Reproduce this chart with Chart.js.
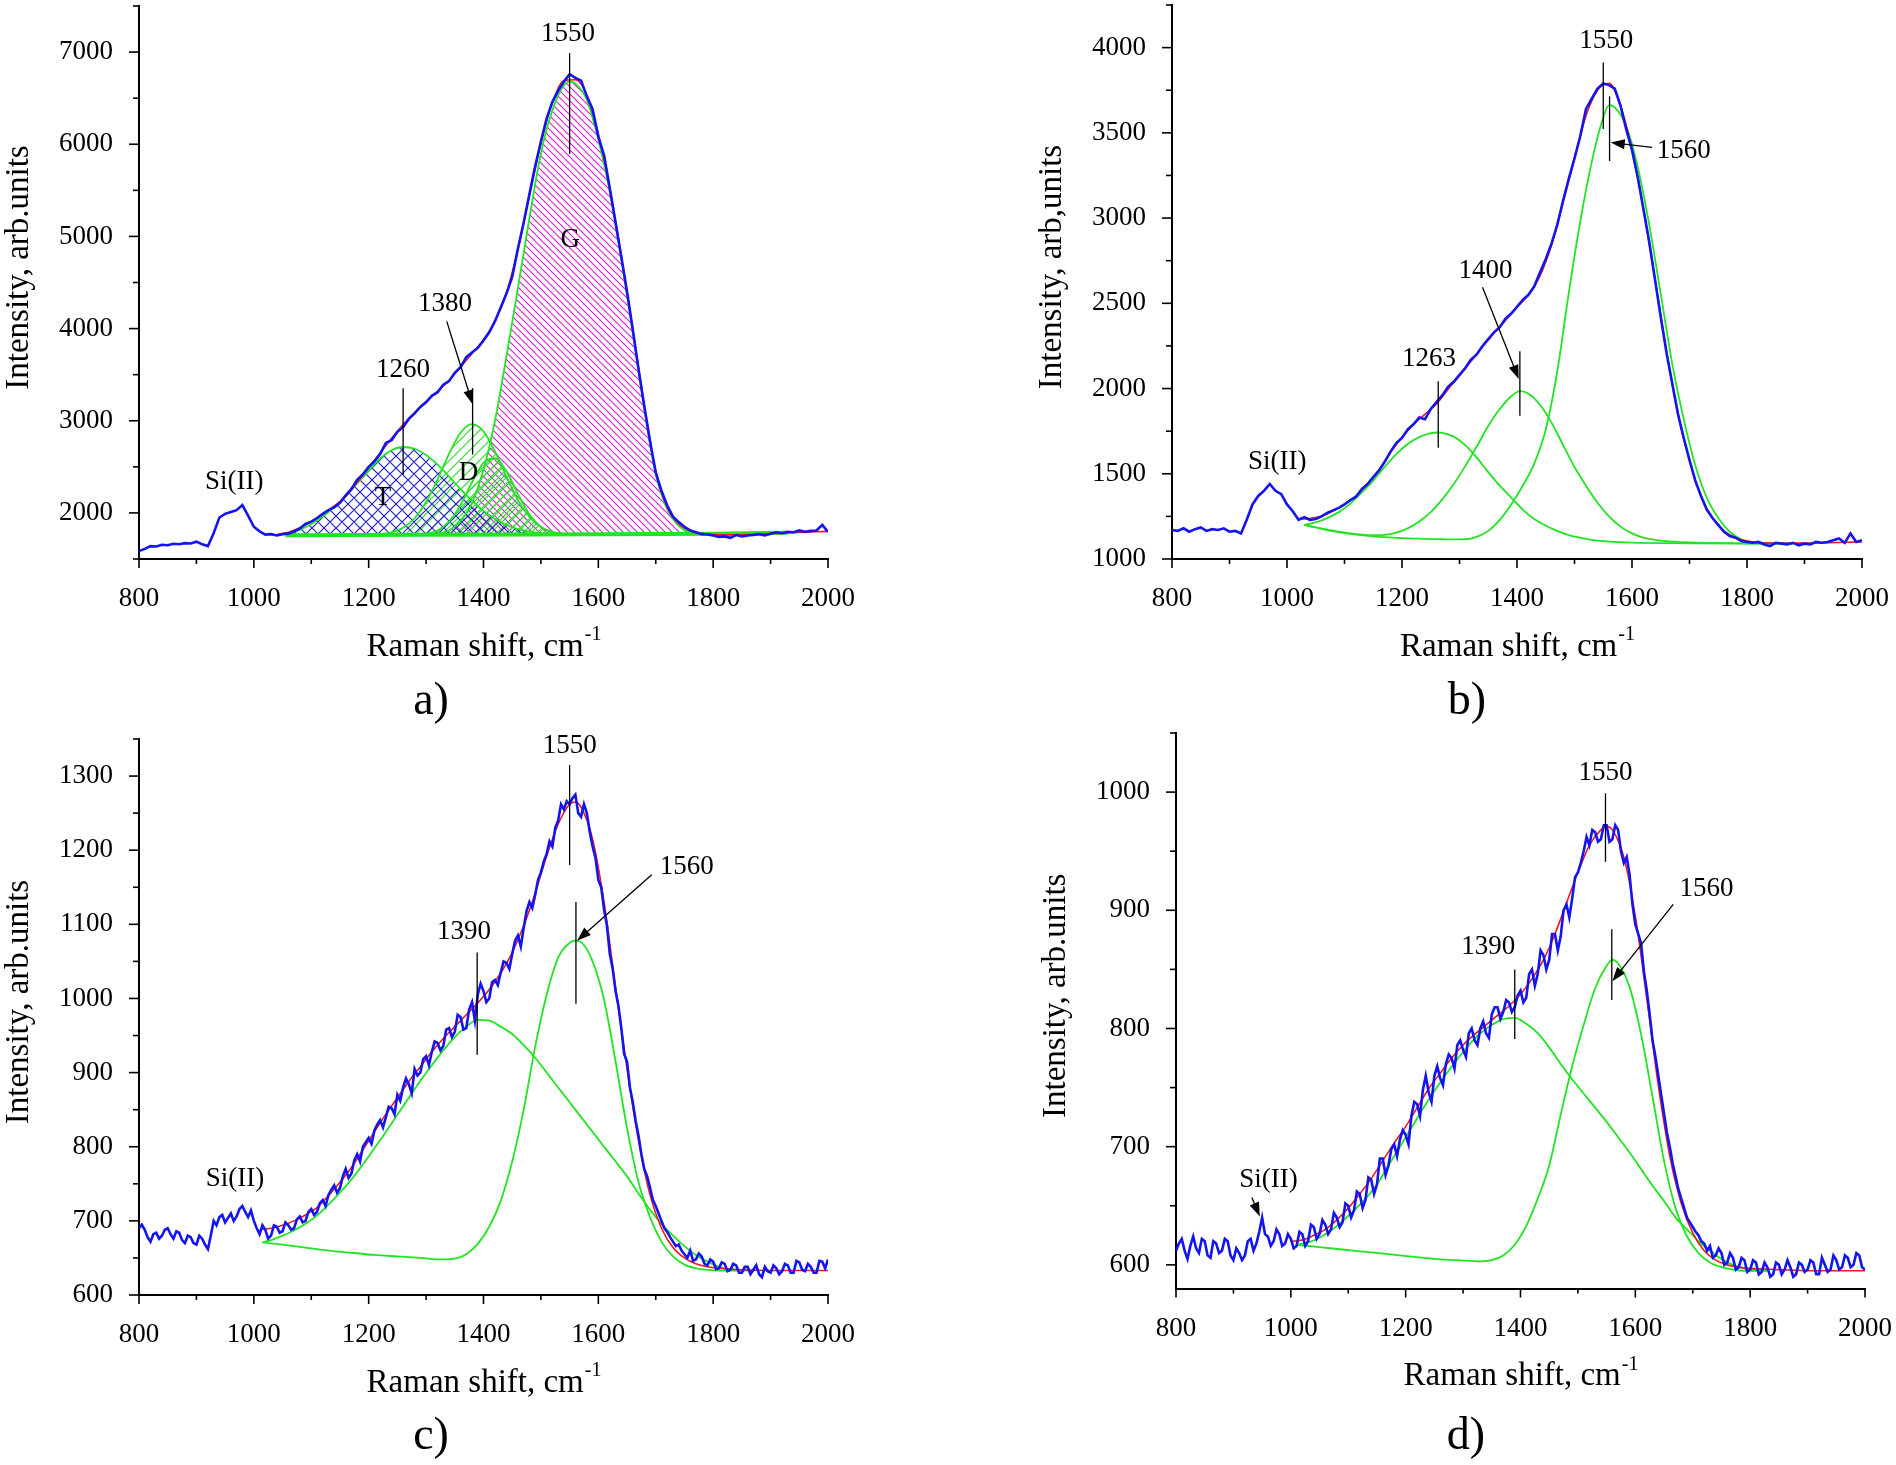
<!DOCTYPE html>
<html>
<head>
<meta charset="utf-8">
<script src="https://cdn.jsdelivr.net/npm/chart.js@4.4.1/dist/chart.umd.min.js"></script>
<style>
html, body { margin: 0; padding: 0; background: #fff; }
body { width: 1896px; height: 1465px; position: relative; overflow: hidden; }
canvas { position: absolute; }
</style>
</head>
<body>
<canvas id="chartA" width="862" height="730" style="left:0px;top:0px"></canvas>
<canvas id="chartB" width="858" height="730" style="left:1038px;top:0px"></canvas>
<canvas id="chartC" width="862" height="735" style="left:0px;top:730px"></canvas>
<canvas id="chartD" width="860" height="735" style="left:1036px;top:730px"></canvas>
<script>
var SERIF = '"Liberation Serif", Tinos, "Times New Roman", Times, "DejaVu Serif", serif';
var BLUE = '#1414f0', RED = '#f01a1a', GREEN = '#22e422';

// measured spectra from 800 cm-1; a, b every 10 cm-1, c, d every 5 cm-1
var SHIFT_START = 800;
var specA = [1585,1610,1640,1635,1655,1650,1665,1660,1672,1668,
  1688,1660,1640,1780,1950,1990,2010,2030,2085,1970,
  1850,1800,1765,1770,1755,1770,1775,1800,1830,1880,
  1905,1945,1990,2030,2060,2110,2190,2260,2360,2420,
  2500,2560,2640,2760,2790,2880,2930,3020,3080,3150,
  3200,3270,3310,3390,3430,3520,3580,3690,3740,3790,
  3870,3960,4080,4230,4380,4560,4870,5150,5460,5760,
  6030,6280,6460,6580,6680,6760,6720,6690,6520,6380,
  6080,5880,5520,5150,4780,4400,3990,3560,3160,2780,
  2440,2240,2080,1960,1900,1850,1810,1790,1770,1765,
  1755,1740,1745,1730,1760,1745,1755,1760,1770,1755,
  1775,1790,1780,1795,1790,1810,1795,1805,1810,1870,
  1795];
var specB = [1170,1165,1180,1160,1175,1185,1165,1175,1170,1180,
  1160,1165,1150,1230,1320,1370,1400,1440,1400,1380,
  1320,1280,1230,1245,1230,1235,1250,1270,1285,1300,
  1320,1345,1365,1410,1440,1480,1520,1570,1630,1680,
  1710,1760,1790,1830,1820,1880,1920,1960,2010,2040,
  2080,2120,2170,2200,2250,2290,2330,2360,2410,2440,
  2480,2520,2550,2600,2680,2760,2850,2960,3100,3230,
  3350,3480,3640,3700,3760,3790,3780,3760,3660,3520,
  3400,3240,3050,2860,2640,2420,2210,2030,1850,1710,
  1580,1460,1370,1290,1240,1200,1160,1135,1125,1105,
  1100,1095,1100,1085,1075,1095,1090,1085,1095,1080,
  1090,1085,1100,1095,1100,1110,1120,1095,1150,1100,
  1110];
var specC = [690,695,688,678,672,682,684,676,680,688,690,682,676,686,684,674,670,680,678,670,
  668,680,676,668,662,680,700,694,705,708,698,704,710,700,706,716,720,712,705,714,
  700,690,682,694,688,676,680,694,692,684,686,698,694,688,690,702,706,698,700,712,
  716,708,712,724,728,720,735,742,748,738,744,760,770,758,764,782,790,780,800,806,
  812,804,822,830,836,826,840,854,852,844,870,862,880,892,884,872,905,896,900,918,
  922,910,928,942,940,930,936,958,960,948,955,978,975,958,960,985,995,970,1005,1020,
  1010,995,1000,1022,1025,1018,1035,1050,1048,1040,1060,1078,1085,1070,1095,1118,1130,1122,1140,1160,
  1170,1185,1195,1212,1205,1230,1240,1262,1255,1266,1262,1270,1275,1250,1245,1262,1250,1225,1205,1190,
  1160,1150,1120,1098,1060,1040,1010,990,960,925,915,880,860,835,815,790,770,760,745,728,
  720,710,700,690,685,678,672,666,668,660,655,650,660,646,648,656,652,642,640,648,
  645,635,636,644,642,632,634,642,640,630,630,638,638,628,634,640,628,624,638,632,
  630,640,636,628,632,642,640,630,630,646,644,634,632,642,638,630,630,646,645,636,
  648];
var specD = [612,618,622,612,605,616,624,614,610,622,620,608,606,620,618,610,612,622,620,608,
  604,614,610,604,608,620,622,612,618,628,640,626,624,616,620,630,626,616,618,626,
  622,614,616,628,626,616,620,634,632,622,626,638,634,626,630,644,640,632,636,652,
  650,640,646,662,660,648,655,674,672,660,668,690,690,676,684,698,702,692,706,714,
  710,702,726,738,736,726,748,760,746,738,760,768,758,752,770,778,775,766,786,790,
  782,776,796,800,790,786,800,806,796,792,812,818,818,808,814,824,822,814,818,828,
  832,822,826,846,850,836,846,866,862,850,858,880,880,866,878,900,905,894,910,928,
  932,940,950,962,955,968,966,958,960,972,972,958,960,972,968,950,940,945,930,905,
  888,880,872,848,832,812,790,776,760,744,728,712,700,686,675,664,656,648,640,636,
  632,628,625,620,618,612,616,606,608,614,610,600,602,610,606,596,598,606,604,594,
  596,604,602,592,594,602,598,590,592,602,600,592,596,604,598,590,592,602,600,594,
  596,604,602,592,592,606,600,594,596,608,604,596,598,608,606,598,600,610,608,598,
  596];

// fitted envelopes (red) and fitted bands (green), [shift, intensity]
var fitA = [[1040,1765],[1060,1790],[1080,1840],[1100,1905],[1120,1985],[1140,2075],[1160,2180],[1180,2330],[1200,2490],[1220,2650],[1240,2810],[1260,2960],[1280,3090],[1300,3210],[1320,3320],[1340,3440],[1360,3580],[1380,3730],[1400,3880],[1420,4080],[1440,4390],[1460,4860],[1480,5440],[1500,6010],[1520,6450],[1540,6690],[1560,6700],[1580,6530],[1600,6110],[1620,5530],[1640,4790],[1660,3990],[1680,3170],[1700,2450],[1720,2060],[1740,1880],[1760,1805],[1780,1775],[1800,1765],[1840,1762],[1900,1775],[1960,1790],[2000,1800]];
var bandT_A = [[1060,1775],[1080,1815],[1100,1880],[1120,1960],[1140,2060],[1160,2180],[1180,2320],[1200,2460],[1220,2590],[1240,2680],[1260,2715],[1280,2696],[1300,2629],[1320,2523],[1340,2394],[1360,2258],[1380,2130],[1400,2020],[1420,1934],[1440,1869],[1460,1825],[1480,1797],[1500,1780],[1520,1770]];
var bandD_A = [[1220,1770],[1240,1790],[1260,1840],[1280,1942],[1300,2118],[1320,2365],[1340,2641],[1360,2869],[1380,2963],[1400,2885],[1420,2668],[1440,2392],[1460,2139],[1480,1956],[1500,1848],[1520,1794],[1540,1772]];
var bandD2_A = [[1300,1773],[1320,1810],[1340,1905],[1360,2086],[1380,2333],[1400,2543],[1420,2593],[1440,2451],[1460,2206],[1480,1984],[1500,1848],[1520,1787],[1540,1765]];
var bandG_A = [[1300,1762],[1320,1775],[1340,1810],[1360,1910],[1380,2110],[1400,2470],[1420,3000],[1440,3700],[1460,4440],[1480,5200],[1500,5900],[1520,6370],[1540,6640],[1550,6680],[1560,6660],[1580,6480],[1600,6050],[1620,5480],[1640,4760],[1660,3960],[1680,3130],[1700,2420],[1720,2040],[1740,1860],[1760,1790],[1780,1770],[1800,1762]];
var baseA = [[1055,1758],[1300,1762],[1600,1768],[1800,1775],[1930,1785]];
var BASE_LEVEL_A = 1760;

var fitB = [[1020,1235],[1040,1238],[1060,1250],[1080,1282],[1100,1322],[1120,1370],[1140,1438],[1160,1520],[1180,1625],[1200,1715],[1220,1790],[1240,1850],[1260,1910],[1280,1995],[1300,2075],[1320,2160],[1340,2245],[1360,2325],[1380,2400],[1400,2475],[1420,2550],[1440,2660],[1460,2840],[1480,3090],[1500,3350],[1520,3600],[1540,3750],[1560,3790],[1580,3660],[1600,3400],[1620,3050],[1640,2640],[1660,2220],[1680,1850],[1700,1580],[1720,1370],[1740,1240],[1760,1165],[1780,1125],[1800,1105],[1840,1093],[1900,1093],[1960,1097],[2000,1100]];
var band1263_B = [[1030,1200],[1050,1215],[1070,1240],[1090,1275],[1110,1325],[1130,1390],[1150,1460],[1170,1540],[1190,1615],[1210,1675],[1230,1715],[1250,1738],[1263,1742],[1270,1740],[1290,1718],[1310,1668],[1330,1595],[1350,1510],[1370,1430],[1390,1360],[1410,1290],[1430,1235],[1450,1195],[1470,1165],[1490,1140],[1510,1125],[1530,1112],[1560,1102],[1600,1096],[1700,1092],[1800,1090],[1880,1090]];
var band1400_B = [[1030,1200],[1050,1185],[1070,1172],[1090,1160],[1110,1150],[1130,1143],[1150,1140],[1170,1142],[1190,1155],[1210,1180],[1230,1220],[1250,1275],[1270,1350],[1290,1440],[1310,1545],[1330,1660],[1350,1780],[1370,1880],[1390,1955],[1405,1985],[1420,1970],[1440,1905],[1460,1800],[1480,1670],[1500,1540],[1520,1430],[1540,1330],[1560,1250],[1580,1190],[1600,1150],[1620,1125],[1650,1108],[1700,1097],[1800,1092],[1880,1090]];
var band1560_B = [[1030,1200],[1050,1185],[1070,1170],[1090,1158],[1110,1148],[1130,1140],[1150,1133],[1170,1128],[1190,1124],[1210,1121],[1230,1119],[1250,1117],[1270,1116],[1290,1115],[1310,1116],[1330,1130],[1350,1165],[1370,1230],[1390,1320],[1410,1430],[1430,1560],[1450,1760],[1470,2100],[1490,2560],[1510,2980],[1530,3330],[1550,3590],[1560,3663],[1570,3650],[1590,3540],[1610,3300],[1630,2960],[1650,2555],[1670,2145],[1690,1820],[1710,1550],[1730,1360],[1750,1240],[1770,1160],[1790,1115],[1810,1098],[1830,1092],[1880,1090]];

var fitC = [[1010,688],[1030,690],[1050,694],[1070,700],[1090,708],[1110,718],[1130,734],[1150,752],[1170,772],[1190,796],[1210,820],[1230,844],[1250,866],[1270,888],[1290,908],[1310,928],[1330,946],[1350,962],[1370,978],[1390,994],[1410,1012],[1430,1034],[1450,1062],[1470,1098],[1490,1142],[1510,1192],[1530,1235],[1550,1262],[1560,1265],[1570,1258],[1590,1215],[1610,1130],[1630,1015],[1650,905],[1670,808],[1690,735],[1710,690],[1730,664],[1750,650],[1770,642],[1790,638],[1810,636],[1850,634],[1900,633],[2000,633]];
var band1390_C = [[1015,671],[1030,674],[1050,680],[1070,687],[1090,696],[1110,707],[1130,722],[1150,738],[1170,756],[1190,776],[1210,798],[1230,820],[1250,843],[1270,866],[1290,889],[1310,910],[1330,930],[1350,948],[1370,962],[1390,971],[1410,970],[1430,962],[1450,952],[1470,937],[1490,920],[1510,900],[1530,880],[1550,860],[1570,840],[1590,820],[1610,800],[1630,780],[1650,760],[1670,737],[1690,715],[1710,696],[1730,680],[1750,666],[1770,654],[1790,645],[1810,638],[1830,635],[1850,634],[1870,633]];
var band1560_C = [[1015,671],[1050,668],[1090,664],[1130,660],[1170,657],[1210,654],[1250,652],[1290,650],[1330,648],[1350,649],[1370,655],[1390,669],[1410,692],[1430,727],[1450,780],[1470,850],[1490,935],[1510,1005],[1530,1055],[1550,1075],[1560,1078],[1570,1076],[1590,1050],[1610,998],[1630,915],[1650,825],[1670,752],[1690,705],[1710,672],[1730,652],[1750,641],[1770,636],[1790,634],[1810,633],[1870,633]];

var fitD = [[1000,620],[1020,621],[1040,625],[1060,630],[1080,638],[1100,648],[1120,660],[1140,673],[1160,688],[1180,703],[1200,717],[1220,733],[1240,749],[1260,762],[1280,775],[1300,786],[1320,795],[1340,803],[1360,811],[1380,819],[1400,829],[1420,842],[1440,858],[1460,880],[1480,906],[1500,932],[1520,955],[1540,968],[1550,971],[1560,968],[1580,945],[1600,895],[1620,825],[1640,752],[1660,692],[1680,652],[1700,627],[1720,612],[1740,604],[1760,600],[1800,597],[1850,596],[1900,595],[2000,595]];
var band1390_D = [[1010,617],[1030,619],[1050,623],[1070,629],[1090,637],[1110,646],[1130,656],[1150,668],[1170,684],[1190,700],[1210,716],[1230,732],[1250,747],[1270,761],[1290,774],[1310,786],[1330,796],[1350,803],[1370,808],[1390,809],[1410,804],[1430,796],[1450,784],[1470,770],[1490,757],[1510,745],[1530,733],[1550,721],[1570,708],[1590,695],[1610,681],[1630,667],[1650,654],[1670,640],[1690,630],[1710,620],[1730,612],[1750,605],[1770,600],[1790,597],[1810,596],[1830,595]];
var band1560_D = [[1010,617],[1050,615],[1090,613],[1130,611],[1170,609],[1210,607],[1250,605],[1290,604],[1330,603],[1350,604],[1370,608],[1390,617],[1410,633],[1430,656],[1450,684],[1470,727],[1490,768],[1510,803],[1530,834],[1550,853],[1560,858],[1570,855],[1590,835],[1610,795],[1630,742],[1650,688],[1670,648],[1690,624],[1710,610],[1730,602],[1750,598],[1770,596],[1790,595],[1830,595]];

// axis ranges: [min, max, minor step, labelled step]
var xRange = [800, 2000, 100, 200];
var yRangeA = [1500, 7500, 500, 1000];
var yRangeB = [1000, 4250, 250, 500];
var yRangeC = [600, 1350, 50, 100];
var yRangeD = [580, 1050, 50, 100];

// peak labels, marker lines and arrows, in data units
var notesA = [
  {text: '1550', at: [1547, 7195]}, {vline: [1550, 6989, 5896]},
  {text: 'G', at: [1551, 4965]},
  {text: '1380', at: [1333, 4273]}, {arrow: [1336, 4078, 1381, 3180]}, {vline: [1381, 3353, 2633]},
  {text: '1260', at: [1260, 3552]}, {vline: [1260, 3353, 2411]},
  {text: 'T', at: [1225, 2162]}, {text: 'D', at: [1374, 2433]},
  {text: 'Si(II)', at: [966, 2335]}
];
var notesB = [
  {text: '1550', at: [1555, 4042]}, {vline: [1550, 3913, 3523]},
  {vline: [1561, 3714, 3335]}, {arrow: [1635, 3415, 1563, 3443]}, {text: '1560', at: [1690, 3394]},
  {text: '1400', at: [1345, 2688]}, {arrow: [1340, 2594, 1403, 2056]}, {vline: [1405, 2219, 1841]},
  {text: '1263', at: [1247, 2172]}, {vline: [1263, 2043, 1653]},
  {text: 'Si(II)', at: [983, 1572]}
];
var notesC = [
  {text: '1550', at: [1550, 1341]}, {vline: [1550, 1315, 1180]},
  {text: '1560', at: [1754, 1177]}, {arrow: [1693, 1167, 1563, 1078]}, {vline: [1561, 1130, 993]},
  {text: '1390', at: [1366, 1090]}, {vline: [1389, 1062, 924]},
  {text: 'Si(II)', at: [967, 756]}
];
var notesD = [
  {text: '1550', at: [1548, 1016]}, {vline: [1548, 999, 941]},
  {text: '1560', at: [1724, 918]}, {arrow: [1666, 905, 1560, 840]}, {vline: [1559, 884, 824]},
  {text: '1390', at: [1344, 869]}, {vline: [1390, 850, 791]},
  {text: 'Si(II)', at: [961, 672]}, {arrow: [932, 657, 946, 641]}
];

function spectrum(arr, step) {
  return arr.map(function (v, i) { return {x: SHIFT_START + i * step, y: v}; });
}
function xy(arr) {
  return arr.map(function (p) { return {x: p[0], y: p[1]}; });
}

function hatch(color, size, dirs) {
  var c = document.createElement('canvas');
  c.width = c.height = size;
  var g = c.getContext('2d');
  g.strokeStyle = color;
  g.lineWidth = 1.2;
  g.beginPath();
  if (dirs.indexOf('/') >= 0) {
    g.moveTo(0, size); g.lineTo(size, 0);
    g.moveTo(-size / 2, size / 2); g.lineTo(size / 2, -size / 2);
    g.moveTo(size / 2, size * 1.5); g.lineTo(size * 1.5, size / 2);
  }
  if (dirs.indexOf('\\') >= 0) {
    g.moveTo(0, 0); g.lineTo(size, size);
    g.moveTo(-size / 2, size / 2); g.lineTo(size / 2, size * 1.5);
    g.moveTo(size / 2, -size / 2); g.lineTo(size * 1.5, size / 2);
  }
  g.stroke();
  return g.createPattern(c, 'repeat');
}

function measured(arr, step) {
  return {data: spectrum(arr, step), borderColor: BLUE, borderWidth: 2.6, pointRadius: 0, tension: 0, fill: false, order: 0};
}
function fitted(arr) {
  return {data: xy(arr), borderColor: RED, borderWidth: 1.6, pointRadius: 0, cubicInterpolationMode: 'monotone', fill: false, order: 1};
}
function band(arr, pattern, level) {
  var ds = {data: xy(arr), borderColor: GREEN, borderWidth: 1.8, pointRadius: 0, cubicInterpolationMode: 'monotone', fill: false, order: 2};
  if (pattern) {
    ds.backgroundColor = pattern;
    ds.fill = {value: level};
  }
  return ds;
}

function drawArrow(ctx, x1, y1, x2, y2) {
  var ang = Math.atan2(y2 - y1, x2 - x1), L = 14, W = 5;
  ctx.beginPath();
  ctx.moveTo(x1, y1);
  ctx.lineTo(x2 - Math.cos(ang) * L * 0.8, y2 - Math.sin(ang) * L * 0.8);
  ctx.stroke();
  ctx.beginPath();
  ctx.moveTo(x2, y2);
  ctx.lineTo(x2 - Math.cos(ang) * L - Math.sin(ang) * W, y2 - Math.sin(ang) * L + Math.cos(ang) * W);
  ctx.lineTo(x2 - Math.cos(ang) * L + Math.sin(ang) * W, y2 - Math.sin(ang) * L - Math.cos(ang) * W);
  ctx.closePath();
  ctx.fill();
}

// outward tick marks (long for labelled values), axis titles and peak notes
var panelPlugin = {
  id: 'panel',
  afterDraw: function (chart, args, o) {
    var ctx = chart.ctx, a = chart.chartArea, sx = chart.scales.x, sy = chart.scales.y;
    ctx.save();
    ctx.strokeStyle = '#000';
    ctx.fillStyle = '#000';
    ctx.lineWidth = 1.6;
    sx.ticks.forEach(function (t) {
      var len = t.value % o.x[3] === 0 ? 9 : 5;
      var p = sx.getPixelForValue(t.value);
      ctx.beginPath(); ctx.moveTo(p, a.bottom); ctx.lineTo(p, a.bottom + len); ctx.stroke();
    });
    sy.ticks.forEach(function (t) {
      var len = t.value % o.y[3] === 0 ? 10 : 6;
      var p = sy.getPixelForValue(t.value);
      ctx.beginPath(); ctx.moveTo(a.left - len, p); ctx.lineTo(a.left, p); ctx.stroke();
    });

    // x title with superscript
    var main = 'Raman shift, cm', sup = '-1';
    ctx.textBaseline = 'middle';
    ctx.textAlign = 'left';
    ctx.font = '33px ' + SERIF;
    var w1 = ctx.measureText(main).width;
    ctx.font = '20px ' + SERIF;
    var w2 = ctx.measureText(sup).width;
    var x0 = (a.left + a.right) / 2 - (w1 + w2) / 2, ty = a.bottom + 88;
    ctx.font = '33px ' + SERIF;
    ctx.fillText(main, x0, ty);
    ctx.font = '20px ' + SERIF;
    ctx.fillText(sup, x0 + w1 + 1, ty - 12);

    // y title
    ctx.save();
    ctx.translate(a.left - 120, (a.top + a.bottom) / 2 - 15);
    ctx.rotate(-Math.PI / 2);
    ctx.textAlign = 'center';
    ctx.font = '33px ' + SERIF;
    ctx.fillText(o.yTitle, 0, 0);
    ctx.restore();

    // notes
    ctx.font = '27px ' + SERIF;
    ctx.textAlign = 'center';
    ctx.lineWidth = 1.3;
    o.notes.forEach(function (n) {
      if (n.text) {
        ctx.fillText(n.text, sx.getPixelForValue(n.at[0]), sy.getPixelForValue(n.at[1]));
      } else if (n.vline) {
        var px = sx.getPixelForValue(n.vline[0]);
        ctx.beginPath();
        ctx.moveTo(px, sy.getPixelForValue(n.vline[1]));
        ctx.lineTo(px, sy.getPixelForValue(n.vline[2]));
        ctx.stroke();
      } else if (n.arrow) {
        drawArrow(ctx, sx.getPixelForValue(n.arrow[0]), sy.getPixelForValue(n.arrow[1]),
          sx.getPixelForValue(n.arrow[2]), sy.getPixelForValue(n.arrow[3]));
      }
    });
    ctx.restore();
  }
};

// ticks on every multiple of the minor step inside the range
function stepTicks(range) {
  return function (s) {
    var t = [];
    for (var v = Math.ceil(range[0] / range[2]) * range[2]; v <= range[1]; v += range[2]) t.push({value: v});
    s.ticks = t;
  };
}

function makePanel(id, o) {
  var tickFont = {family: SERIF, size: 27};
  return new Chart(document.getElementById(id), {
    type: 'line',
    data: {datasets: o.datasets},
    options: {
      responsive: false,
      animation: false,
      devicePixelRatio: 1,
      events: [],
      layout: {padding: {top: o.top, left: 0, right: 0, bottom: 0}},
      plugins: {
        legend: {display: false},
        tooltip: {enabled: false},
        filler: {drawTime: 'beforeDatasetsDraw'},
        title: {
          display: true, position: 'bottom', text: o.label, color: '#000',
          font: {family: SERIF, size: 46, weight: 'normal', lineHeight: 1.2},
          padding: {top: 10, bottom: 0}
        },
        panel: {x: xRange, y: o.y, yTitle: o.yTitle, notes: o.notes}
      },
      scales: {
        x: {
          type: 'linear', min: xRange[0], max: xRange[1],
          grid: {display: false},
          border: {color: '#000', width: 2},
          afterBuildTicks: stepTicks(xRange),
          ticks: {
            autoSkip: false, maxRotation: 0, padding: 16, color: '#000', font: tickFont,
            callback: function (v) { return v % xRange[3] === 0 ? String(v) : ''; }
          },
          afterFit: function (s) {
            s.height = o.xHeight;
            s.paddingLeft = 0; s.paddingRight = o.right; s.paddingTop = 0; s.paddingBottom = 0;
          }
        },
        y: {
          type: 'linear', min: o.y[0], max: o.y[1],
          grid: {display: false},
          border: {color: '#000', width: 2},
          afterBuildTicks: stepTicks(o.y),
          ticks: {
            autoSkip: false, padding: 18, color: '#000', font: tickFont,
            callback: function (v) { return v % o.y[3] === 0 ? String(v) : ''; }
          },
          afterFit: function (s) {
            s.width = o.yWidth;
            s.paddingLeft = 0; s.paddingRight = 0; s.paddingTop = 0; s.paddingBottom = 0;
          }
        }
      }
    },
    plugins: [panelPlugin]
  });
}

var baseDs = band(baseA);
baseDs.borderWidth = 4;
baseDs.order = 3;

makePanel('chartA', {
  label: 'a)', yTitle: 'Intensity, arb.units', y: yRangeA, notes: notesA,
  top: 6, yWidth: 139, xHeight: 105.8, right: 34,
  datasets: [
    measured(specA, 10),
    fitted(fitA),
    band(bandT_A, hatch('#2222cc', 12, '/\\'), BASE_LEVEL_A),
    band(bandD_A, hatch('#33d833', 10, '/'), BASE_LEVEL_A),
    band(bandD2_A, hatch('#33d833', 8, '/'), BASE_LEVEL_A),
    band(bandG_A, hatch('#dd22dd', 7, '\\'), BASE_LEVEL_A),
    baseDs
  ]
});

makePanel('chartB', {
  label: 'b)', yTitle: 'Intensity, arb,units', y: yRangeB, notes: notesB,
  top: 5, yWidth: 134, xHeight: 105.8, right: 34,
  datasets: [measured(specB, 10), fitted(fitB), band(band1263_B), band(band1400_B), band(band1560_B)]
});

makePanel('chartC', {
  label: 'c)', yTitle: 'Intensity, arb.units', y: yRangeC, notes: notesC,
  top: 9, yWidth: 139, xHeight: 104.8, right: 34,
  datasets: [measured(specC, 5), fitted(fitC), band(band1390_C), band(band1560_C)]
});

makePanel('chartD', {
  label: 'd)', yTitle: 'Intensity, arb.units', y: yRangeD, notes: notesD,
  top: 3, yWidth: 140, xHeight: 111.3, right: 31,
  datasets: [measured(specD, 5), fitted(fitD), band(band1390_D), band(band1560_D)]
});
</script>
</body>
</html>
